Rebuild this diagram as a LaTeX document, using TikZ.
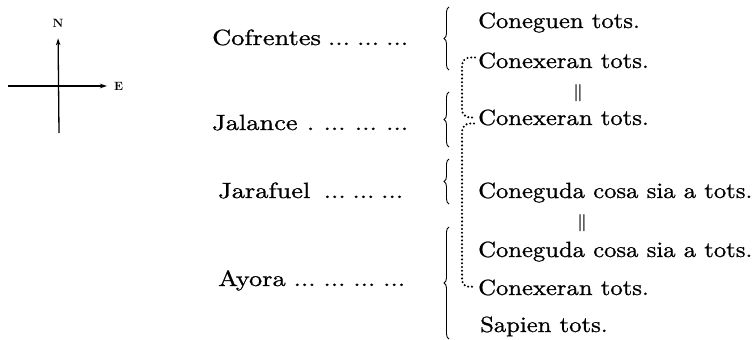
\documentclass[tikz,border=0pt]{standalone}
\usepackage{fontspec}
\usepackage{bm}
\newfontfamily\txtfont{lmroman10-regular.otf}[FakeStretch=1.12, FakeBold=0.9]
\newfontfamily\lblfont{lmroman10-regular.otf}[FakeStretch=1.2, FakeBold=0.9]
\newfontfamily\dirfont{lmroman10-bold.otf}
\usetikzlibrary{arrows.meta,decorations.pathreplacing,calc}
\tikzset{
  lbl/.style={anchor=base west, inner sep=0pt, font=\fontsize{22}{26}\lblfont},
  txt/.style={anchor=base west, inner sep=0pt, font=\fontsize{22}{26}\txtfont},
  bracebox/.style={decorate, decoration={brace, amplitude=5pt}, line width=0.9pt},
  dotline/.style={line width=2.3pt, line cap=round, dash pattern=on 0pt off 3.8pt, rounded corners=8pt},
  compassline/.style={line width=1.3pt, -{Stealth[length=7pt,width=4.5pt]}},
  eqbar/.style={inner sep=0pt, font=\fontsize{16}{16}\selectfont},
  dirlbl/.style={inner sep=1pt, font=\fontsize{12}{12}\dirfont},
}
\begin{document}
\begin{tikzpicture}[x=1pt,y=1pt]
\path[use as bounding box] (0,0) rectangle (755,-340);

% compass
\coordinate (sth) at (59,-133);
\coordinate (wst) at (8,-86);
\node[dirlbl] (N) at (58,-23) {N};
\node[dirlbl, anchor=west] (E) at (113,-86) {E};
\draw[compassline, shorten >=10pt] (sth) -- (N.south);
\draw[compassline, shorten >=6pt] (wst) -- (E.west);

% left labels
\node[lbl] (cof) at (212,-45) {\makebox[196pt][l]{Cofrentes\hfill...\hfill...\hfill...}};
\node[lbl] (jal) at (212,-130) {\makebox[196pt][l]{Jalance\hfill.\hfill...\hfill...\hfill...}};
\node[lbl] (jar) at (218,-198) {\makebox[185pt][l]{Jarafuel\hfill\hfill...\hfill...\hfill...}};
\node[lbl] (ayo) at (218,-286) {\makebox[187pt][l]{Ayora\hfill...\hfill...\hfill...\hfill...}};

% braces
\draw[bracebox] (449,-70) -- (449,-7);
\draw[bracebox] (449,-147) -- (449,-92);
\draw[bracebox] (449,-204) -- (449,-159);
\draw[bracebox] (449,-339) -- (449,-227);

% right texts
\node[txt] (t1) at (478,-28) {Coneguen tots.};
\node[txt] (t2) at (478,-68) {Conexeran tots.};
\node[eqbar] (eq1) at (578,-93) {$\bm{\|}$};
\node[txt] (t3) at (478,-125) {Conexeran tots.};
\node[txt] (t4) at (478,-198) {Coneguda cosa sia a tots.};
\node[eqbar] (eq2) at (582,-223) {$\bm{\|}$};
\node[txt] (t5) at (478,-257) {Coneguda cosa sia a tots.};
\node[txt] (t6) at (478,-295) {Conexeran tots.};
\node[txt] (t7) at (480,-332) {Sapien tots.};

% dotted connectors
\draw[dotline] ($(t2.west)+(-3,3)$) -| ($(t3.west)+(-16,0)$) -- ($(t3.west)+(-3,0)$);
\draw[dotline] ($(t3.west)+(-4,-6)$) -| ($(t6.west)+(-16,0)$) -- ($(t6.west)+(-3,1)$);
\end{tikzpicture}
\end{document}
